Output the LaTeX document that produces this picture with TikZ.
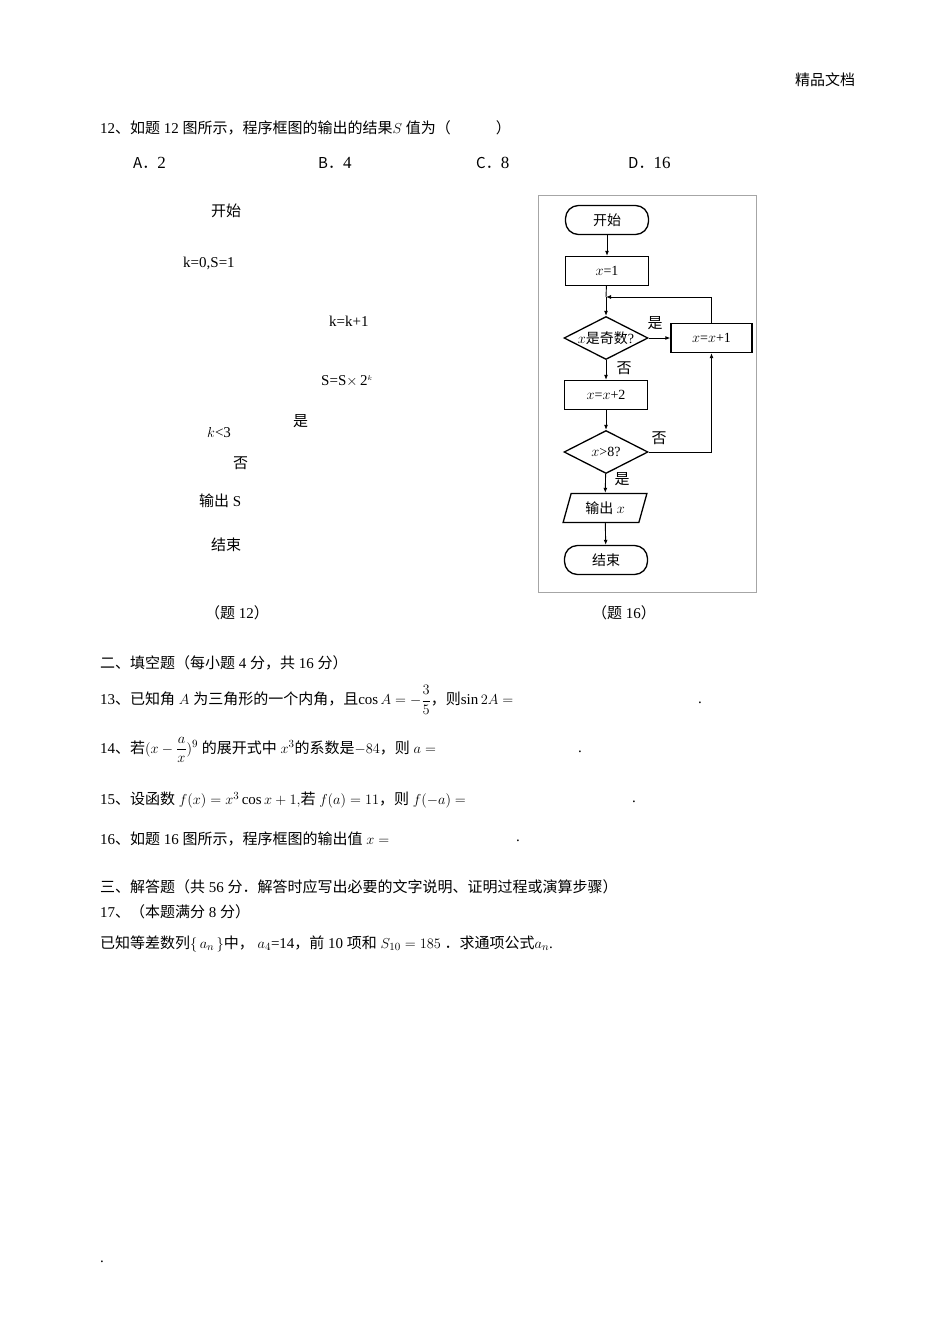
\documentclass[tikz,border=0pt]{standalone}
\usepackage{amsmath}
\usepackage{fontspec}
\setmainfont{Liberation Serif}
\newfontfamily\cjk{Noto Sans CJK SC}
\usetikzlibrary{shapes.geometric,arrows.meta}
\newcommand{\C}[1]{{\cjk #1}}
\begin{document}
\begin{tikzpicture}[x=1pt,y=-1pt,
  txt/.style={anchor=west,inner sep=0pt,font=\fontsize{15}{17}\selectfont},
  fc/.style={font=\fontsize{15}{17}\selectfont\cjk,inner sep=0pt},
  box/.style={draw,line width=1.3pt,minimum width=83pt,minimum height=29pt,inner sep=0pt,font=\fontsize{14}{16}\selectfont},
  term/.style={box,rounded corners=13pt},
  dia/.style={draw,line width=1.3pt,diamond,aspect=2,minimum width=84pt,minimum height=43pt,inner sep=0pt,font=\fontsize{14}{16}\selectfont},
  io/.style={draw,line width=1.3pt,trapezium,trapezium stretches=true,trapezium left angle=70,trapezium right angle=110,minimum width=84pt,minimum height=29pt,inner sep=0pt,font=\fontsize{14}{16}\selectfont},
  arr/.style={line width=0.9pt,-{Latex[length=5pt,width=4pt]}}]
\useasboundingbox (0,0) rectangle (950,1344);
\fill[white] (0,0) rectangle (950,1344);
\node[txt] (hdr) at (795,80) {\C{精品文档}};
\node[txt] (q12) at (100,128) {12\C{、如题} 12 \C{图所示，程序框图的输出的结果}$S$ \C{值为（}\hspace{45pt}\C{）}};
\node[txt] (oa) at (133,163) {\C{A．}\fontsize{17}{19}\selectfont 2};
\node[txt] (ob) at (318,163) {\C{B．}\fontsize{17}{19}\selectfont 4};
\node[txt] (oc) at (476,163) {\C{C．}\fontsize{17}{19}\selectfont 8};
\node[txt] (od) at (628,163) {\C{D．}\fontsize{17}{19}\selectfont 16};
\node[txt] (l1) at (211,211) {\C{开始}};
\node[txt] (l2) at (183,263) {k=0,S=1};
\node[txt] (l3) at (329,321) {k=k+1};
\node[txt] (l4) at (321,381) {S=S$\times$\,2$^{\scriptscriptstyle k}$};
\node[txt] (l5) at (293,421) {\C{是}};
\node[txt] (l6) at (207,433) {$k$<3};
\node[txt] (l7) at (233,463) {\C{否}};
\node[txt] (l8) at (199,501) {\C{输出} S};
\node[txt] (l9) at (211,545) {\C{结束}};
\node[txt] (c12) at (205,613) {\C{（题} 12\C{）}};
\node[txt] (c16) at (592,613) {\C{（题} 16\C{）}};
% flowchart
\node[draw=black!35,minimum width=218pt,minimum height=397pt,inner sep=0pt] (frame) at (647,393.5) {};
\node[term] (s) at (607,220) {\C{开始}};
\node[box] (a) at (607,271) {$x$=1};
\node[dia] (d1) at (606,338) {$x$\C{是奇数}?};
\node[box,minimum width=81pt] (b) at (711.5,338) {$x$=$x$+1};
\node[box] (c) at (606,395) {$x$=$x$+2};
\node[dia] (d2) at (606,452) {$x$>8?};
\node[io] (o) at (605,508) {\C{输出} $x$};
\node[term] (e) at (606,560) {\C{结束}};
\coordinate (m) at (606,297);
\draw[arr] (s) -- (a);
\draw[line width=0.9pt] (a) -- (m);
\draw[arr] (m) -- (d1);
\draw[arr] (d1) -- (b);
\draw[arr] (d1) -- (c);
\draw[arr] (c) -- (d2);
\draw[arr] (d2) -- (o);
\draw[arr] (o) -- (e);
\draw[arr] (d2.east) -- (711.5,452) -- (b.south);
\draw[arr] (b.north) -- (711.5,297) -- (m);
\node[fc] (y1) at (655,323) {是};
\node[fc] (n1) at (624,368) {否};
\node[fc] (n2) at (659,438) {否};
\node[fc] (y2) at (622,479) {是};
% section 2
\node[txt] (s2) at (100,663) {\C{二、填空题（每小题} 4 \C{分，共} 16 \C{分）}};
\node[txt] (q13) at (100,700) {13\C{、已知角} $A$ \C{为三角形的一个内角，且}$\cos A=-\dfrac{3}{5}$\C{，则}$\sin 2A=$};
\node[txt] (d13) at (698,703) {.};
\node[txt] (q14) at (100,750) {14\C{、若}$(x-\dfrac{a}{x})^{9}$ \C{的展开式中} $x^{3}$\C{的系数是}$-84$\C{，则} $a=$};
\node[txt] (d14) at (578,752) {.};
\node[txt] (q15) at (100,800) {15\C{、设函数} $f(x)=x^{3}\cos x+1,$\C{若} $f(a)=11$\C{，则} $f(-a)=$};
\node[txt] (d15) at (632,802) {.};
\node[txt] (q16) at (100,839) {16\C{、如题} 16 \C{图所示，程序框图的输出值} $x=$};
\node[txt] (d16) at (516,841) {.};
\node[txt] (s3) at (100,887) {\C{三、解答题（共} 56 \C{分．解答时应写出必要的文字说明、证明过程或演算步骤）}};
\node[txt] (q17) at (100,912) {17\C{、（本题满分} 8 \C{分）}};
\node[txt] (q17b) at (100,944) {\C{已知等差数列}$\{\,a_n\,\}$\C{中，} $a_4$=14\C{，前} 10 \C{项和} $S_{10}=185$ \C{．求通项公式}$a_n$.};
\node[txt] (dot) at (100,1262) {.};
\end{tikzpicture}
\end{document}
